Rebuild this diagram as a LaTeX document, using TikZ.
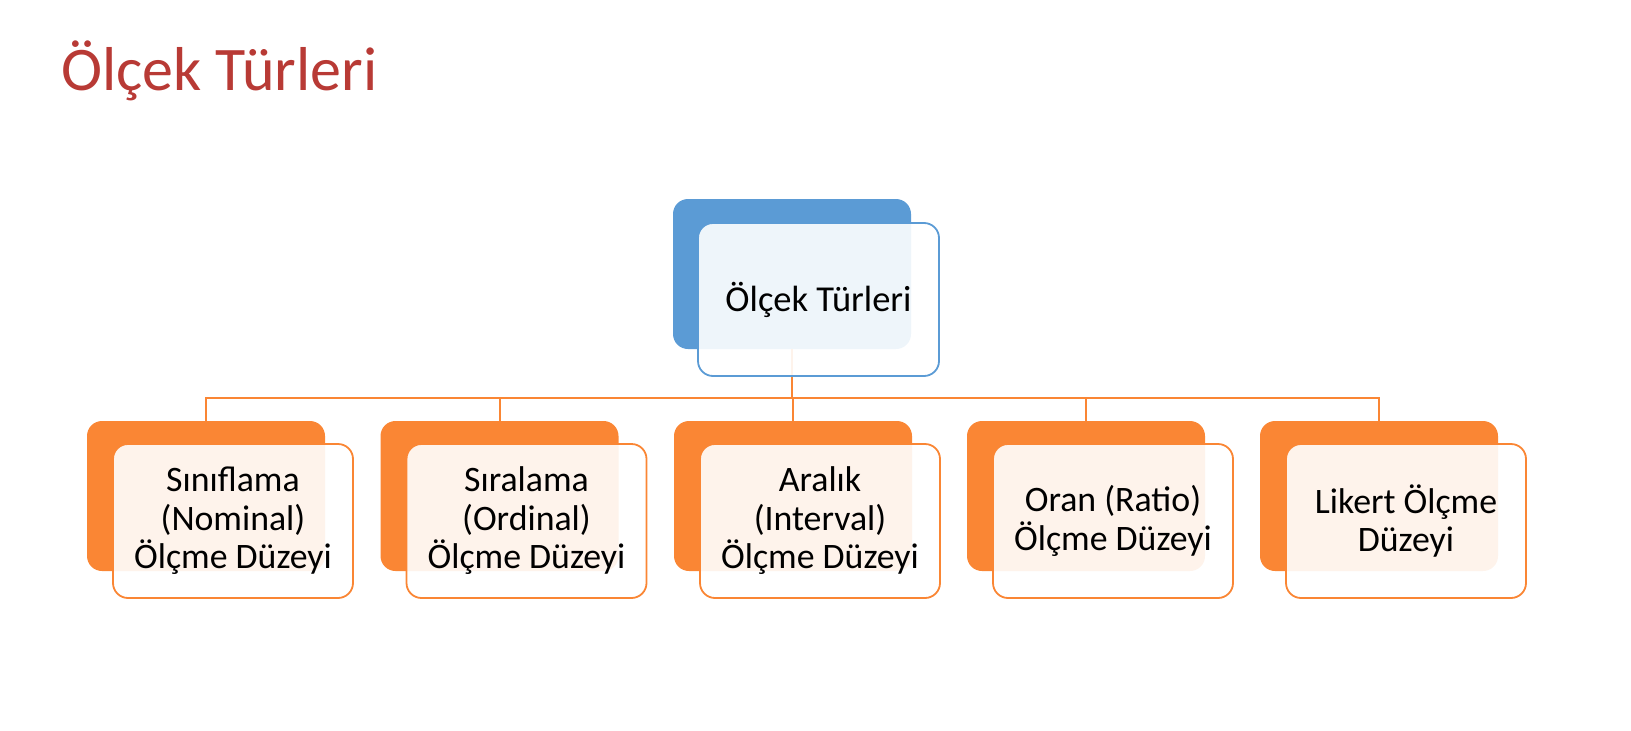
\documentclass[tikz,border=0pt]{standalone}
\usepackage{fontspec}
\setmainfont{Carlito}
\definecolor{titlered}{RGB}{184,58,53}
\definecolor{orng}{RGB}{250,134,52}
\definecolor{blu}{RGB}{91,155,213}
\begin{document}
\begin{tikzpicture}[x=1pt,y=-1pt,
  backbox/.style={rounded corners=15pt, minimum width=238pt, minimum height=150pt, inner sep=0pt, draw=none},
  frontbox/.style={rounded corners=15pt, minimum width=240pt, minimum height=154pt, inner sep=0pt,
     fill=white, fill opacity=0.9, text opacity=1, line width=1.8pt, align=center,
     font=\fontsize{35.8}{38.5}\selectfont},
  conn/.style={draw=orng, line width=2pt}]
\useasboundingbox (0,0) rectangle (1631,731);
\node[anchor=base west, text=titlered, font=\fontsize{62}{70}\selectfont, inner sep=0pt] (title) at (61,90) {Ölçek Türleri};
% back boxes
\node[backbox, fill=blu] (pb) at (792,274) {};
\node[backbox, fill=orng] (b1) at (206,496) {};
\node[backbox, fill=orng] (b2) at (499.5,496) {};
\node[backbox, fill=orng] (b3) at (793,496) {};
\node[backbox, fill=orng] (b4) at (1086,496) {};
\node[backbox, fill=orng] (b5) at (1379,496) {};
% connectors
\coordinate (bus) at (792,398);
\draw[conn] (pb.south) -- (bus);
\draw[conn] (b1.north) |- (bus) -| (b5.north);
\draw[conn] (b2.north) -- (b2.north |- bus);
\draw[conn] (b3.north) -- (b3.north |- bus);
\draw[conn] (b4.north) -- (b4.north |- bus);
% front boxes
\node[frontbox, draw=blu, minimum width=241pt, minimum height=153pt, font=\fontsize{36.5}{40}\selectfont] (pf) at (818.5,299.5) {Ölçek Türleri};
\node[frontbox, draw=orng] (f1) at (233,521) {Sınıflama\\(Nominal)\\Ölçme Düzeyi};
\node[frontbox, draw=orng] (f2) at (526.5,521) {Sıralama\\(Ordinal)\\Ölçme Düzeyi};
\node[frontbox, draw=orng] (f3) at (820,521) {Aralık\\(Interval)\\Ölçme Düzeyi};
\node[frontbox, draw=orng] (f4) at (1113,521) {Oran (Ratio)\\Ölçme Düzeyi};
\node[frontbox, draw=orng] (f5) at (1406,521) {Likert Ölçme\\Düzeyi};
\end{tikzpicture}
\end{document}
